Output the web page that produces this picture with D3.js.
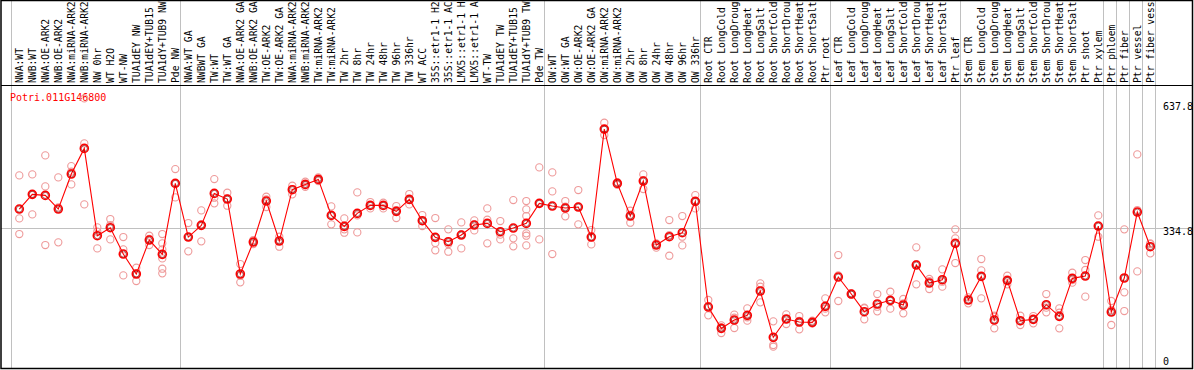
<!DOCTYPE html>
<html>
<head>
<meta charset="utf-8">
<script src="https://d3js.org/d3.v7.min.js"></script>
<style>
  body { margin: 0; background: #fff; }
  text { font-family: "DejaVu Sans Mono", monospace; font-size: 10px; }
  text.lab { font-size: 9.7px; }
</style>
</head>
<body>
<script>
// sample labels, left to right
var labels = [
  "NWA:WT", "NWB:WT", "NWA:OE-ARK2", "NWB:OE-ARK2", "NWA:miRNA-ARK2", "NWB:miRNA-ARK2",
  "NW 0hr", "WT H2O", "WT-NW", "TUA1dEY NW", "TUA1dEY+TUB15", "TUA1dY+TUB9 NW", "Pde NW",
  "NWA:WT GA", "NWBWT GA", "TW:WT", "TW:WT GA", "NWA:OE-ARK2 GA", "NWB:OE-ARK2 GA",
  "TW:OE-ARK2", "TW:OE-ARK2 GA", "NWA:miRNA-ARK2", "NWB:miRNA-ARK2", "TW:miRNA-ARK2",
  "TW:miRNA-ARK2", "TW 2hr", "TW 8hr", "TW 24hr", "TW 48hr", "TW 96hr", "TW 336hr",
  "WT ACC", "35S::etr1-1 H2O", "35S::etr1-1 ACC", "LMX5::etr1-1 H2O", "LMX5::etr1-1 ACC",
  "WT-TW", "TUA1dEY TW", "TUA1dEY+TUB15", "TUA1dY+TUB9 TW", "Pde TW",
  "OW:WT", "OW:WT GA", "OW:OE-ARK2", "OW:OE-ARK2 GA", "OW:miRNA-ARK2", "OW:miRNA-ARK2",
  "OW 2hr", "OW 8hr", "OW 24hr", "OW 48hr", "OW 96hr", "OW 336hr",
  "Root CTR", "Root LongCold", "Root LongDrought", "Root LongHeat", "Root LongSalt",
  "Root ShortCold", "Root ShortDrought", "Root ShortHeat", "Root ShortSalt", "Ptr root",
  "Leaf CTR", "Leaf LongCold", "Leaf LongDrought", "Leaf LongHeat", "Leaf LongSalt",
  "Leaf ShortCold", "Leaf ShortDrought", "Leaf ShortHeat", "Leaf ShortSalt", "Ptr leaf",
  "Stem CTR", "Stem LongCold", "Stem LongDrought", "Stem LongHeat", "Stem LongSalt",
  "Stem ShortCold", "Stem ShortDrought", "Stem ShortHeat", "Stem ShortSalt", "Ptr shoot",
  "Ptr xylem", "Ptr phloem", "Ptr fiber", "Ptr vessel", "Ptr fiber vessel"
];

// mean expression per sample
var means = [
  380.3, 415.9, 413.4, 380.3, 465.1, 527.3, 315.7, 335.1, 271.3, 222.9, 305.2, 270.5, 442.5,
  312.5, 340.8, 418.3, 404.6, 222.9, 300.4, 399.7, 302.8, 427.2, 440.1, 452.2, 365.0, 338.3,
  369.8, 389.2, 389.2, 374.7, 403.7, 352.1, 311.7, 301.2, 317.3, 341.6, 345.6, 325.4, 334.3,
  345.6, 394.1,
  387.6, 382.8, 385.2, 312.5, 574.1, 442.5, 363.4, 448.2, 293.1, 313.3, 323.0, 398.9,
  142.9, 91.2, 111.4, 122.7, 181.7, 69.4, 113.9, 106.6, 105.8, 144.5,
  215.6, 174.4, 131.6, 150.2, 159.1, 147.8, 244.7, 201.1, 209.1, 297.2,
  159.9, 217.2, 111.4, 207.5, 109.8, 113.0, 148.6, 120.3, 212.4, 218.0, 339.1,
  130.8, 213.2, 373.1, 289.1
];

// replicate values per sample
var replicates = [
  [461.9, 357.7, 319.8], [464.3, 367.4, 415.9], [510.3, 435.2, 293.1], [457.0, 384.4, 299.6],
  [484.5, 470.8, 440.1], [648.4, 539.4, 391.6], [325.4, 335.9, 285.0], [356.1, 341.6, 306.8],
  [312.5, 282.6, 219.6], [238.2, 224.5, 205.9], [315.7, 307.7, 293.1],
  [319.8, 297.2, 282.6, 260.8, 235.8, 224.5], [477.2, 442.5, 408.6],
  [346.4, 312.5, 277.8], [377.1, 343.2, 302.0], [453.0, 407.8, 394.1], [419.9, 405.4, 388.4],
  [247.1, 218.8, 202.7], [305.2, 300.4, 295.5], [410.2, 403.8, 385.2], [313.3, 305.2, 289.1],
  [436.9, 428.8, 415.9], [446.5, 438.5, 434.4], [457.0, 450.6, 448.2], [386.8, 365.0, 343.2],
  [357.7, 331.1, 323.0], [420.7, 365.0, 323.8], [397.3, 389.2, 381.9], [395.7, 389.2, 381.9],
  [387.6, 377.9, 358.5], [416.7, 402.9, 391.6], [365.8, 351.3, 339.1], [358.5, 298.0, 280.2],
  [331.1, 295.5, 277.0], [348.0, 319.0, 285.0], [352.9, 343.2, 328.6], [381.9, 354.5, 297.2],
  [351.3, 318.2, 306.8], [402.1, 309.3, 289.9],
  [399.7, 379.5, 363.4, 321.4, 315.7, 292.3], [481.3, 394.1, 306.8],
  [469.2, 423.1, 271.3], [399.7, 386.0, 362.6], [426.4, 386.0, 343.2], [329.5, 312.5, 294.7],
  [589.5, 574.1, 559.6], [445.7, 442.5, 439.3], [376.3, 366.6, 347.2], [464.3, 450.6, 428.8],
  [297.2, 295.5, 286.7], [353.7, 317.3, 267.3], [363.4, 313.3, 292.3], [414.2, 399.7, 381.9],
  [159.9, 145.3, 122.7], [98.5, 93.7, 79.9], [124.4, 117.1, 92.1], [139.7, 117.9, 109.8],
  [200.3, 192.2, 154.2], [108.2, 50.9, 46.8], [125.2, 113.9, 101.7], [121.1, 109.0, 88.8],
  [109.8, 103.4, 103.4], [163.9, 138.9, 130.0],
  [268.9, 219.6, 157.5], [176.0, 174.4, 172.8], [141.3, 139.7, 113.0], [174.4, 143.7, 132.4],
  [180.1, 159.1, 138.9], [162.3, 151.8, 127.6], [287.5, 247.1, 197.8], [210.8, 205.9, 186.5],
  [234.2, 204.3, 192.2], [331.1, 309.3, 249.5],
  [166.3, 159.9, 151.8], [259.2, 231.8, 163.9], [121.9, 119.5, 91.2], [218.8, 205.9, 197.8],
  [121.9, 108.2, 99.3], [121.1, 113.0, 103.4], [174.4, 141.3, 130.0], [139.7, 129.2, 91.2],
  [226.1, 208.3, 201.9], [256.8, 232.6, 168.0], [365.0, 339.1, 313.3],
  [157.5, 135.7, 99.3], [331.1, 178.5, 133.2], [512.8, 377.9, 229.3], [297.2, 295.5, 272.9]
];

// first sample index of each group (last entry closes the plot)
var groupStarts = [0, 13, 41, 53, 63, 73, 84, 85, 86, 87, 88];
var yTicks = [0, 334.8, 637.8];
var geneName = "Potri.011G146800";

var width = 1194,
  height = 370,
  labelBottom = 85;

var svg = d3
  .select("body")
  .append("svg")
  .attr("width", width)
  .attr("height", height);

var x = d3.scaleLinear().domain([0, labels.length - 1]).range([19.3, 1150.3]);
var y = d3.scaleLinear().domain([0, 637.8]).range([366, 102.8]);
var step = x(1) - x(0);

function boundary(i) {
  return x(i) - step * 0.615;
}

// horizontal grid line
svg
  .append("line")
  .attr("x1", 1)
  .attr("x2", width - 1)
  .attr("y1", Math.round(y(334.8)) + 0.5)
  .attr("y2", Math.round(y(334.8)) + 0.5)
  .style("stroke", "#c0c0c0");

// group separators
svg
  .selectAll("line.sep")
  .data(groupStarts)
  .enter()
  .append("line")
  .attr("class", "sep")
  .attr("x1", (d) => Math.round(boundary(d)) + 0.5)
  .attr("x2", (d) => Math.round(boundary(d)) + 0.5)
  .attr("y1", 0)
  .attr("y2", height - 1)
  .style("stroke", "#c0c0c0");

// clip for the rotated labels (long ones run into the top edge)
svg
  .append("clipPath")
  .attr("id", "labclip")
  .append("rect")
  .attr("x", 0)
  .attr("y", 1)
  .attr("width", width)
  .attr("height", labelBottom - 1);

svg
  .append("g")
  .attr("clip-path", "url(#labclip)")
  .selectAll("text")
  .data(labels)
  .enter()
  .append("text")
  .attr("class", "lab")
  .attr("transform", (d, i) => "translate(" + (x(i) + 3.6) + "," + (labelBottom - 2) + ") rotate(-90)")
  .style("fill", "#000")
  .text((d) => d);

// gene name
svg
  .append("text")
  .attr("x", 10)
  .attr("y", 101)
  .style("fill", "red")
  .text(geneName);

// replicate circles
var repPoints = [];
replicates.forEach(function (r, i) {
  r.forEach(function (v) {
    repPoints.push({ i: i, v: v });
  });
});

svg
  .selectAll("circle.rep")
  .data(repPoints)
  .enter()
  .append("circle")
  .attr("class", "rep")
  .attr("cx", (d) => x(d.i))
  .attr("cy", (d) => y(d.v))
  .attr("r", 3.6)
  .style("fill", "none")
  .style("stroke", "#ee9a9a")
  .style("stroke-width", 1.1);

// mean line
var line = d3
  .line()
  .x((d, i) => x(i))
  .y((d) => y(d));

svg
  .append("path")
  .datum(means)
  .attr("d", line)
  .style("fill", "none")
  .style("stroke", "red")
  .style("stroke-width", 1.1);

// mean circles
svg
  .selectAll("circle.mean")
  .data(means)
  .enter()
  .append("circle")
  .attr("class", "mean")
  .attr("cx", (d, i) => x(i))
  .attr("cy", (d) => y(d))
  .attr("r", 4)
  .style("fill", "none")
  .style("stroke", "red")
  .style("stroke-width", 1.6);

svg
  .selectAll("circle.meanin")
  .data(means)
  .enter()
  .append("circle")
  .attr("class", "meanin")
  .attr("cx", (d, i) => x(i))
  .attr("cy", (d) => y(d))
  .attr("r", 3)
  .style("fill", "none")
  .style("stroke", "#7a0000")
  .style("stroke-width", 0.6);

// right axis labels
svg
  .selectAll("text.ytick")
  .data(yTicks)
  .enter()
  .append("text")
  .attr("class", "ytick")
  .attr("x", 1163)
  .attr("y", (d) => Math.min(y(d) + 7.5, 365))
  .style("fill", "#000")
  .text((d) => d);

// frame
svg
  .append("rect")
  .attr("x", 1)
  .attr("y", 0.5)
  .attr("width", width - 2.5)
  .attr("height", height - 2)
  .style("fill", "none")
  .style("stroke", "#000")
  .style("stroke-width", 1.5);

svg
  .append("line")
  .attr("x1", 1)
  .attr("x2", width - 1)
  .attr("y1", labelBottom + 0.5)
  .attr("y2", labelBottom + 0.5)
  .style("stroke", "#000");
</script>
</body>
</html>
